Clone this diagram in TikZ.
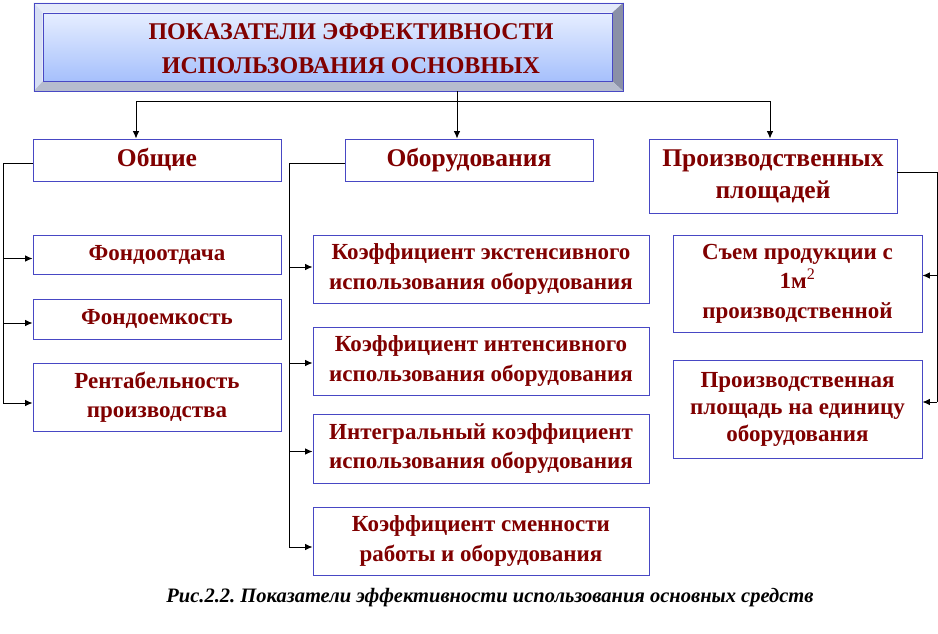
\documentclass[tikz,border=0pt]{standalone}
\usepackage{fontspec}
\setmainfont{Liberation Serif}
\usetikzlibrary{arrows.meta,backgrounds}
\frenchspacing
\definecolor{txtred}{RGB}{128,0,0}
\definecolor{bord}{RGB}{72,72,196}
\definecolor{bevtop}{RGB}{228,234,250}
\definecolor{bevleft}{RGB}{214,222,244}
\definecolor{bevright}{RGB}{138,144,166}
\definecolor{bevbot}{RGB}{182,188,206}
\definecolor{facetop}{RGB}{230,238,255}
\definecolor{facebot}{RGB}{166,192,252}
\tikzset{
  box/.style={draw=bord, line width=0.9pt, fill=white, align=center, inner sep=0pt,
    font=\fontsize{23}{29.5}\selectfont\bfseries, text=txtred},
  headbox/.style={box, font=\fontsize{25.5}{32}\selectfont\bfseries},
  conn/.style={line width=0.9pt, black},
  arr/.style={conn, -{Latex[length=7.5pt,width=6.5pt]}},
}
\begin{document}
\begin{tikzpicture}[x=1pt,y=-1pt]
\useasboundingbox (0,0) rectangle (938,633);
% top bevelled box
\node[draw=bord, line width=0.9pt, minimum width=589, minimum height=88, inner sep=0pt] (top) at (328.5,47) {};
\node[draw=bord, line width=0.8pt, minimum width=569, minimum height=68, inner sep=0pt,
      top color=facetop, bottom color=facebot] (topin) at (327.5,47) {};
\begin{scope}[on background layer]
  \fill[bevtop] (top.north west) -- (top.north east) -- (topin.north east) -- (topin.north west) -- cycle;
  \fill[bevleft] (top.north west) -- (topin.north west) -- (topin.south west) -- (top.south west) -- cycle;
  \fill[bevright] (top.north east) -- (top.south east) -- (topin.south east) -- (topin.north east) -- cycle;
  \fill[bevbot] (top.south west) -- (topin.south west) -- (topin.south east) -- (top.south east) -- cycle;
\end{scope}
\node[align=center, text=txtred, font=\fontsize{24}{34}\selectfont\bfseries] (toptext) at (351,49)
  {ПОКАЗАТЕЛИ ЭФФЕКТИВНОСТИ\\ИСПОЛЬЗОВАНИЯ ОСНОВНЫХ};

% second level
\node[headbox, minimum width=248, minimum height=42] (obs) at (157,160) {Общие};
\node[headbox, minimum width=248, minimum height=42] (obo) at (469,160) {Оборудования};
\node[headbox, minimum width=248, minimum height=74] (pro) at (773,176) {Производственных\\площадей};

% left column
\node[box, minimum width=248, minimum height=39] (fo) at (157,254.5) {Фондоотдача};
\node[box, minimum width=248, minimum height=40] (fe) at (157,319) {Фондоемкость};
\node[box, minimum width=248, minimum height=68] (ren) at (157,397) {Рентабельность\\производства};

% middle column
\node[box, minimum width=336, minimum height=68] (k1) at (481,269) {Коэффициент экстенсивного\\использования оборудования};
\node[box, minimum width=336, minimum height=68] (k2) at (481,361) {Коэффициент интенсивного\\использования оборудования};
\node[box, minimum width=336, minimum height=69] (k3) at (481,448.5) {Интегральный коэффициент\\использования оборудования};
\node[box, minimum width=336, minimum height=68] (k4) at (481,541) {Коэффициент сменности\\работы и оборудования};

% right column
\node[box, minimum width=249, minimum height=97] (s1) at (797.5,283.5) {Съем продукции с\\1м\textsuperscript{\mdseries 2}\\производственной};
\node[box, minimum width=249, minimum height=98, font=\fontsize{23}{27}\selectfont\bfseries] (s2) at (797.5,409) {Производственная\\площадь на единицу\\оборудования};

% caption
\node[font=\fontsize{20.5}{22}\selectfont\bfseries\itshape] (cap) at (490,598)
  {Рис.2.2. Показатели эффективности использования основных средств};

% shifted attachment points
\coordinate (obsW) at ([yshift=-3pt]obs.west);
\coordinate (foW) at ([yshift=-4pt]fo.west);
\coordinate (feW) at ([yshift=-4pt]fe.west);
\coordinate (renW) at ([yshift=-6pt]ren.west);
\coordinate (oboW) at ([yshift=-3pt]obo.west);
\coordinate (k1W) at ([yshift=2pt]k1.west);
\coordinate (k2W) at ([yshift=-2pt]k2.west);
\coordinate (k3W) at ([yshift=-3pt]k3.west);
\coordinate (k4W) at ([yshift=-6pt]k4.west);
\coordinate (proE) at ([yshift=4pt]pro.east);
\coordinate (s1E) at ([yshift=8pt]s1.east);
\coordinate (s2E) at ([yshift=7pt]s2.east);

% connectors from top
\coordinate (j) at (457,101);
\coordinate (a1) at (136,101);
\coordinate (a3) at (770,101);
\draw[conn] (top.south -| j) -- (j);
\draw[conn] (a1) -- (a3);
\draw[arr] (a1) -- (a1 |- obs.north);
\draw[arr] (j) -- (j |- obo.north);
\draw[arr] (a3) -- (a3 |- pro.north);

% left branch
\coordinate (L) at (3,163);
\draw[conn] (obsW) -- (L) -- (L |- renW);
\draw[arr] (L |- foW) -- (foW);
\draw[arr] (L |- feW) -- (feW);
\draw[arr] (L |- renW) -- (renW);

% middle branch
\coordinate (M) at (289,163);
\draw[conn] (oboW) -- (M) -- (M |- k4W);
\draw[arr] (M |- k1W) -- (k1W);
\draw[arr] (M |- k2W) -- (k2W);
\draw[arr] (M |- k3W) -- (k3W);
\draw[arr] (M |- k4W) -- (k4W);

% right branch
\coordinate (R) at (937,172);
\draw[conn] (proE) -- (R) -- (R |- s2E);
\draw[arr] (R |- s1E) -- (s1E);
\draw[arr] (R |- s2E) -- (s2E);
\end{tikzpicture}
\end{document}
